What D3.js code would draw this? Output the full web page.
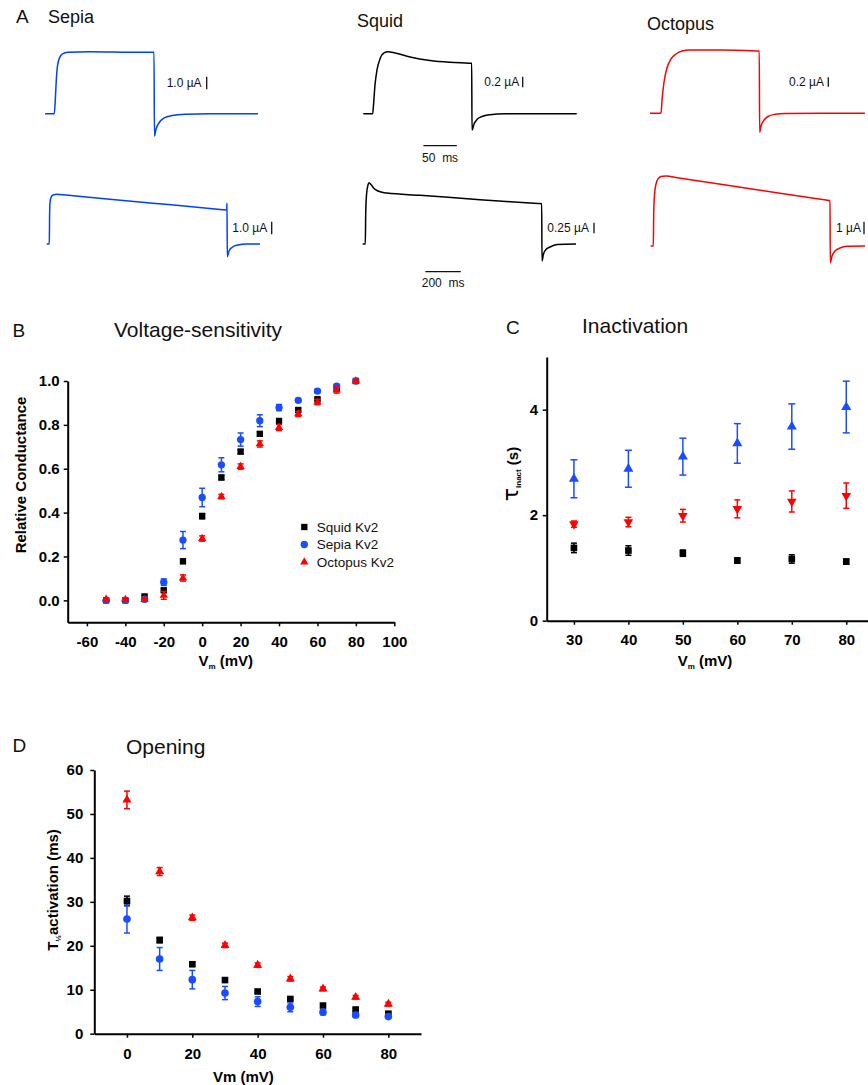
<!DOCTYPE html>
<html>
<head>
<meta charset="utf-8">
<script src="https://cdn.jsdelivr.net/npm/d3@7"></script>
<style>
  body { margin: 0; background: #fff; }
  svg { display: block; }
</style>
</head>
<body>
<svg id="fig" width="868" height="1085"></svg>
<script>
// ---------- Panel A: current traces [time (ms), current (µA)] ----------
const sepiaShort = [[0,0],[13.9,0],[15.4,1.09],[16.9,2.67],[18.7,3.79],[21.7,4.42],[26.2,4.74],[34.4,4.87],[67.4,4.92],[127.2,4.88],[160,4.87],[163.2,4.87],[163.8,-1.77],[166.2,-1.21],[171.0,-0.70],[178.4,-0.34],[190.4,-0.14],[209.6,-0.04],[247.0,0],[318.9,0]];
const squidShort = [[0,0],[14.1,0],[15.3,0.163],[17.5,0.536],[20.5,0.817],[25.0,1.022],[31.0,1.135],[37.4,1.159],[47.5,1.135],[69.9,1.06],[99.9,0.994],[129.9,0.961],[158,0.945],[162.3,0.942],[162.7,-0.305],[165.7,-0.193],[170.2,-0.108],[177.7,-0.052],[189.7,-0.019],[212.1,-0.002],[319.5,0]];
const octopusShort = [[0,0],[16.5,0],[18.0,0.286],[21.0,0.673],[25.4,0.974],[31.4,1.168],[38.9,1.275],[47.9,1.34],[59.9,1.361],[104.8,1.361],[160,1.342],[163.6,1.34],[164.1,-0.409],[166.2,-0.273],[170.7,-0.144],[176.6,-0.069],[187.1,-0.022],[202.1,-0.004],[321.9,0]];
const sepiaLong = [[0,0],[14.7,0],[16.4,2.36],[18.6,3.33],[24.3,3.78],[35.6,3.98],[58.2,4.04],[75.1,4.02],[150,3.92],[600,3.32],[995,2.79],[1017,2.76],[1018.6,3.31],[1020.3,-1.03],[1030,-0.57],[1046.9,-0.28],[1075.1,-0.10],[1130,0],[1205,0]];
const squidLong = [[0,0],[14.7,0],[16.9,0.679],[21.5,1.148],[29.9,1.382],[35.6,1.436],[46.9,1.393],[63.8,1.30],[86.4,1.241],[114.7,1.206],[137.3,1.194],[323.7,1.141],[662.7,1.037],[990,0.95],[1011.3,0.944],[1013,-0.398],[1021.5,-0.234],[1035.6,-0.129],[1058.2,-0.07],[1097.7,-0.012],[1205,0]];
const octopusLong = [[0,0],[14.7,0],[16.9,2.44],[21.5,4.02],[29.9,4.88],[41.2,5.28],[58.2,5.47],[86.4,5.51],[150,5.38],[600,4.43],[990,3.62],[1013,3.57],[1014.7,-1.31],[1024.3,-0.79],[1041.2,-0.39],[1069.5,-0.16],[1109,-0.02],[1210.7,0]];

// ---------- Panel B: relative conductance ----------
const voltagesB = [-50,-40,-30,-20,-10,0,10,20,30,40,50,60,70,80];
const squidG     = [0.0,0.0,0.018,0.046,0.178,0.384,0.56,0.678,0.759,0.818,0.868,0.917,0.964,1.0];
const squidGErr  = [0.005,0.005,0.006,0.008,0.01,0.012,0.01,0.01,0.01,0.008,0.008,0.006,0.006,0.004];
const sepiaG     = [0.0,0.0,0.005,0.083,0.275,0.469,0.618,0.733,0.819,0.879,0.912,0.954,0.977,1.0];
const sepiaGErr  = [0.005,0.005,0.01,0.015,0.039,0.042,0.032,0.03,0.027,0.014,0.008,0.008,0.008,0.005];
const octopusG   = [0.005,0.004,0.003,0.023,0.102,0.282,0.473,0.61,0.713,0.788,0.85,0.904,0.959,1.0];
const octopusGErr= [0.006,0.005,0.006,0.018,0.014,0.012,0.01,0.012,0.014,0.014,0.012,0.012,0.014,0.005];
const xTicksB = [-60,-40,-20,0,20,40,60,80,100];
const xMinorB = [-50,-30,-10,10,30,50,70,90];
const yTicksB = [0.0,0.2,0.4,0.6,0.8,1.0];
const yMinorB = [0.1,0.3,0.5,0.7,0.9];
const legendB = ["Squid Kv2","Sepia Kv2","Octopus Kv2"];

// ---------- Panel C: inactivation time constant (s) ----------
const voltagesC = [30,40,50,60,70,80];
const sepiaTau     = [2.69,2.88,3.11,3.36,3.68,4.05];
const sepiaTauErr  = [0.36,0.35,0.35,0.375,0.43,0.49];
const octopusTau   = [1.83,1.87,1.99,2.12,2.26,2.37];
const octopusTauErr= [0.06,0.09,0.12,0.17,0.2,0.24];
const squidTau     = [1.38,1.33,1.28,1.14,1.17,1.12];
const squidTauErr  = [0.09,0.09,0.06,0.05,0.08,0.05];
const xTicksC = [30,40,50,60,70,80];
const xMinorC = [35,45,55,65,75,85];
const yTicksC = [0,2,4];
const yMinorC = [1,3,5];

// ---------- Panel D: half-activation time (ms) ----------
const voltagesD = [0,10,20,30,40,50,60,70,80];
const octopusT    = [53.2,36.9,26.4,20.1,15.6,12.5,10.2,8.3,6.75];
const octopusTErr = [2.0,0.9,0.6,0.5,0.5,0.5,0.4,0.4,0.4];
const squidT      = [30.2,21.3,15.8,12.2,9.6,7.9,6.4,5.5,4.55];
const squidTErr   = [1.1,0.6,0.4,0.4,0.4,0.3,0.3,0.3,0.3];
const sepiaT      = [26.1,17.0,12.3,9.25,7.3,6.0,4.9,4.25,3.9];
const sepiaTErr   = [3.2,2.6,2.1,1.5,1.1,1.0,0.6,0.5,0.3];
const xTicksD = [0,20,40,60,80];
const xMinorD = [10,30,50,70,90];
const yTicksD = [0,10,20,30,40,50,60];
const yMinorD = [5,15,25,35,45,55];

// ---------- drawing ----------
const FONT = '"Liberation Sans", Arial, Helvetica, sans-serif';
const BLUE_TRACE = "#0040ff", BLUE = "#1a4dff", RED = "#ff0000", BLACK = "#000000";
const svg = d3.select("#fig");

function label(x, y, s, o = {}) {
  return svg.append("text")
    .attr("x", x).attr("y", y)
    .attr("font-family", FONT)
    .attr("font-size", o.size || 12)
    .attr("font-weight", o.weight || "normal")
    .attr("text-anchor", o.anchor || "start")
    .attr("fill", "#111")
    .text(s);
}

// ----- Panel A -----
label(16, 23, "A", {size: 19});
label(48, 23, "Sepia", {size: 18});
label(357, 27, "Squid", {size: 18});
label(647, 30, "Octopus", {size: 18});

const traces = [
  {data: sepiaShort,   x0: 45,    base: 113.7, kt: 0.668, ki: 12.6, color: BLUE_TRACE, bar: 1.0,  text: "1.0 µA",  lx: 166.7, bx: 206.7, mid: 83},
  {data: squidShort,   x0: 363.3, base: 113.7, kt: 0.668, ki: 53.5, color: BLACK,      bar: 0.2,  text: "0.2 µA",  lx: 484.3, bx: 522.7, mid: 82},
  {data: octopusShort, x0: 650,   base: 113.3, kt: 0.668, ki: 46.5, color: RED,        bar: 0.2,  text: "0.2 µA",  lx: 789,   bx: 828.3, mid: 82},
  {data: sepiaLong,    x0: 46.7,  base: 244,   kt: 0.177, ki: 12.3, color: BLUE_TRACE, bar: 1.0,  text: "1.0 µA",  lx: 232.3, bx: 271.7, mid: 228},
  {data: squidLong,    x0: 362.7, base: 244,   kt: 0.177, ki: 42.7, color: BLACK,      bar: 0.25, text: "0.25 µA", lx: 547.3, bx: 594,   mid: 228},
  {data: octopusLong,  x0: 650.7, base: 246,   kt: 0.177, ki: 12.7, color: RED,        bar: 1,    text: "1 µA",    lx: 836,   bx: 864,   mid: 228}
];

traces.forEach((tr, i) => {
  const tMax = d3.max(tr.data, d => d[0]);
  const iMax = d3.max(tr.data, d => d[1]);
  const x = d3.scaleLinear([0, tMax], [tr.x0, tr.x0 + tMax * tr.kt]);
  const y = d3.scaleLinear([0, iMax], [tr.base, tr.base - iMax * tr.ki]);
  tr.x = x; tr.y = y;
  svg.append("path")
    .datum(tr.data)
    .attr("fill", "none")
    .attr("stroke", tr.color)
    .attr("stroke-width", 1.5)
    .attr("stroke-linejoin", "round")
    .attr("d", d3.line().x(d => x(d[0])).y(d => y(d[1])).curve(d3.curveMonotoneX));
  // current scale bar
  const len = y(0) - y(tr.bar);
  label(tr.lx, tr.mid + 4.3, tr.text, {size: 12});
  svg.append("line")
    .attr("x1", tr.bx).attr("x2", tr.bx)
    .attr("y1", tr.mid - len / 2).attr("y2", tr.mid + len / 2)
    .attr("stroke", "#111").attr("stroke-width", 1.3);
});

// time scale bars drawn with the squid traces' time scales
function timeBar(tr, t0, dur, yy, text, ty) {
  svg.append("line")
    .attr("x1", tr.x(t0)).attr("x2", tr.x(t0 + dur))
    .attr("y1", yy).attr("y2", yy)
    .attr("stroke", "#111").attr("stroke-width", 1.2);
  svg.append("text")
    .attr("x", (tr.x(t0) + tr.x(t0 + dur)) / 2).attr("y", ty)
    .attr("font-family", FONT).attr("font-size", 12).attr("fill", "#111")
    .attr("text-anchor", "middle").attr("xml:space", "preserve")
    .text(text);
}
timeBar(traces[1], 90, 50, 145.7, "50  ms", 161.7);
timeBar(traces[4], 354, 200, 271.7, "200  ms", 286.7);

// ----- shared helpers for scatter panels -----
function styleAxis(g) {
  g.select(".domain").attr("stroke", "#000").attr("stroke-width", 2);
  g.selectAll(".tick line").attr("stroke", "#000").attr("stroke-width", 1.5);
  g.selectAll(".tick text")
    .attr("font-family", FONT).attr("font-size", 15)
    .attr("font-weight", "bold").attr("fill", "#000");
}

function axes(x, y, o) {
  const xa = svg.append("g").attr("transform", `translate(0,${y.range()[0]})`);
  xa.call(d3.axisBottom(x).tickValues(o.xMinor).tickSize(4).tickSizeOuter(0).tickFormat(""));
  xa.call(d3.axisBottom(x).tickValues(o.xTicks).tickSize(4).tickSizeOuter(0).tickPadding(o.xPad).tickFormat(o.xFmt));
  styleAxis(xa);
  const ya = svg.append("g").attr("transform", `translate(${x.range()[0]},0)`);
  ya.call(d3.axisLeft(y).tickValues(o.yMinor).tickSize(4).tickSizeOuter(0).tickFormat(""));
  ya.call(d3.axisLeft(y).tickValues(o.yTicks).tickSize(4).tickSizeOuter(0).tickPadding(o.yPad).tickFormat(o.yFmt));
  styleAxis(ya);
}

function series(x, y, xs, vals, errs, o) {
  const g = svg.append("g");
  xs.forEach((v, i) => {
    if (errs && errs[i] > 0) {
      const y1 = y(vals[i] - errs[i]), y2 = y(vals[i] + errs[i]), cx = x(v);
      g.append("line").attr("x1", cx).attr("x2", cx).attr("y1", y1).attr("y2", y2)
        .attr("stroke", o.color).attr("stroke-width", 1.5);
      [y1, y2].forEach(yy => g.append("line")
        .attr("x1", cx - o.cap / 2).attr("x2", cx + o.cap / 2).attr("y1", yy).attr("y2", yy)
        .attr("stroke", o.color).attr("stroke-width", 1.5));
    }
  });
  const sym = d3.symbol().type(o.type).size(o.size);
  g.selectAll("path.pt").data(xs).join("path")
    .attr("class", "pt")
    .attr("transform", (v, i) => `translate(${x(v)},${y(vals[i])})` + (o.flip ? " rotate(180)" : ""))
    .attr("d", sym())
    .attr("fill", o.color);
}

function vmLabel(cx, by, sub) {
  const t = svg.append("text").attr("x", cx).attr("y", by)
    .attr("font-family", FONT).attr("font-size", 15).attr("font-weight", "bold")
    .attr("text-anchor", "middle").attr("fill", "#000");
  if (sub) {
    t.append("tspan").text("V");
    t.append("tspan").attr("font-size", 8).attr("dy", 3).text("m");
    t.append("tspan").attr("dy", -3).text(" (mV)");
  } else {
    t.text("Vm (mV)");
  }
}

// ----- Panel B -----
label(12.5, 337, "B", {size: 19});
label(114, 337, "Voltage-sensitivity", {size: 21});
const xB = d3.scaleLinear([-70, 100], [67.7, 394.3]);
const yB = d3.scaleLinear([-0.1, 1.0], [622.3, 381]);
axes(xB, yB, {xTicks: xTicksB, xMinor: xMinorB, yTicks: yTicksB, yMinor: yMinorB,
  xPad: 10, yPad: 4, xFmt: d => String(d), yFmt: d3.format(".1f")});
series(xB, yB, voltagesB, squidG, squidGErr, {color: BLACK, type: d3.symbolSquare, size: 40, cap: 6});
series(xB, yB, voltagesB, sepiaG, sepiaGErr, {color: BLUE, type: d3.symbolCircle, size: 42, cap: 6});
series(xB, yB, voltagesB, octopusG, octopusGErr, {color: RED, type: d3.symbolTriangle, size: 30, cap: 6});
vmLabel(225.8, 665.7, true);
svg.append("text").attr("transform", "translate(26,475) rotate(-90)")
  .attr("font-family", FONT).attr("font-size", 15).attr("font-weight", "bold")
  .attr("text-anchor", "middle").attr("fill", "#000").text("Relative Conductance");

// legend
const legendSyms = [
  {type: d3.symbolSquare, color: BLACK, size: 40},
  {type: d3.symbolCircle, color: BLUE, size: 42},
  {type: d3.symbolTriangle, color: RED, size: 30}
];
legendB.forEach((name, i) => {
  const cy = 527 + i * 17.5;
  svg.append("path").attr("transform", `translate(304.3,${cy})`)
    .attr("d", d3.symbol().type(legendSyms[i].type).size(legendSyms[i].size)())
    .attr("fill", legendSyms[i].color);
  label(316.7, cy + 4.8, name, {size: 13.5});
});

// ----- Panel C -----
label(506, 334, "C", {size: 19});
label(582, 333, "Inactivation", {size: 21});
const xC = d3.scaleLinear([25, 85], [546.7, 873.5]);
const yC = d3.scaleLinear([0, 5], [620.7, 356.9]);
axes(xC, yC, {xTicks: xTicksC, xMinor: xMinorC, yTicks: yTicksC, yMinor: yMinorC,
  xPad: 10, yPad: 4.5, xFmt: d => String(d), yFmt: d => String(d)});
series(xC, yC, voltagesC, squidTau, squidTauErr, {color: BLACK, type: d3.symbolSquare, size: 44, cap: 6});
series(xC, yC, voltagesC, octopusTau, octopusTauErr, {color: RED, type: d3.symbolTriangle, size: 40, cap: 6, flip: true});
series(xC, yC, voltagesC, sepiaTau, sepiaTauErr, {color: BLUE, type: d3.symbolTriangle, size: 44, cap: 7});
vmLabel(705, 665.7, true);
{
  const t = svg.append("text").attr("transform", "translate(518,474) rotate(-90)")
    .attr("font-family", FONT).attr("font-size", 15).attr("font-weight", "bold")
    .attr("text-anchor", "middle").attr("fill", "#000");
  t.append("tspan").attr("font-family", '"DejaVu Sans", sans-serif').attr("font-weight", "normal").attr("font-size", 22).text("τ");
  t.append("tspan").attr("font-size", 8).attr("dy", 3).text("inact");
  t.append("tspan").attr("dy", -3).text(" (s)");
}

// ----- Panel D -----
label(12.5, 752, "D", {size: 19});
label(126, 754, "Opening", {size: 21});
const xD = d3.scaleLinear([-10, 90], [94.3, 421]);
const yD = d3.scaleLinear([0, 60], [1033.7, 770]);
axes(xD, yD, {xTicks: xTicksD, xMinor: xMinorD, yTicks: yTicksD, yMinor: yMinorD,
  xPad: 11, yPad: 7, xFmt: d => String(d), yFmt: d => String(d)});
series(xD, yD, voltagesD, squidT, squidTErr, {color: BLACK, type: d3.symbolSquare, size: 44, cap: 6});
series(xD, yD, voltagesD, sepiaT, sepiaTErr, {color: BLUE, type: d3.symbolCircle, size: 46, cap: 6});
series(xD, yD, voltagesD, octopusT, octopusTErr, {color: RED, type: d3.symbolTriangle, size: 36, cap: 6});
vmLabel(243.3, 1081.7, false);
{
  const t = svg.append("text").attr("transform", "translate(57.5,890) rotate(-90)")
    .attr("font-family", FONT).attr("font-size", 15).attr("font-weight", "bold")
    .attr("text-anchor", "middle").attr("fill", "#000");
  t.append("tspan").text("T");
  t.append("tspan").attr("font-size", 8).attr("dy", 3).text("½");
  t.append("tspan").attr("dy", -3).text("activation (ms)");
}
</script>
</body>
</html>
